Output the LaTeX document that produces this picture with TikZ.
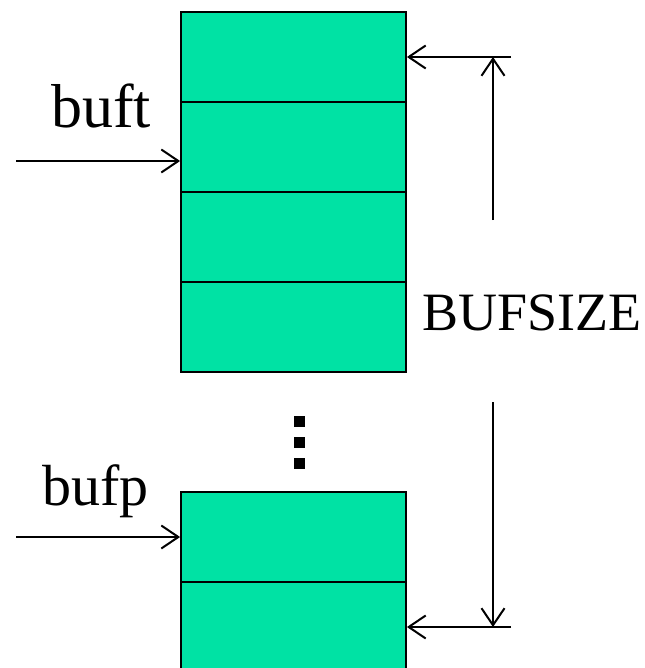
\documentclass[tikz,border=0pt]{standalone}
\usepackage{fontspec}
\setmainfont{Liberation Serif}
\usetikzlibrary{arrows.meta}

\definecolor{bufgreen}{RGB}{0,226,164}

\begin{document}
\begin{tikzpicture}[x=1pt,y=-1pt,
    cell/.style={draw, fill=bufgreen, line width=1.8pt, minimum width=225pt, minimum height=90pt, inner sep=0pt},
    ptr/.style={line width=2pt, -{Straight Barb[length=17pt,width=23pt,line width=2pt]}},
    lbl/.style={anchor=base west, inner sep=0pt, font=\fontsize{62}{64}\selectfont}]
        \def \cx {293.5}
        \def \top {57}
        \def \h {90}
        
        \clip (0,0) rectangle (644,668);
        
        % the buffer blocks
        \foreach \i in {0,1,2,3}{
          \node[cell] at (\cx,{\top+\i*\h}) (cell\i) {};
        }
        \node[cell] at (\cx,537) (bot0) {};
        \node[cell] at (\cx,627) (bot1) {};
        
        % dots
        \foreach \y in {421,442,463}{
          \fill (294,\y-5.5) rectangle (305,\y+5.5);
        }
        
        % pointers
        \node[lbl] at (51,128) (buft) {buft};
        \coordinate (bufttail) at (16,161);
        \draw[ptr] (bufttail) -- (bufttail -| cell1.west);
        
        \node[lbl, font=\fontsize{58}{60}\selectfont] at (42,505) (bufp) {bufp};
        \coordinate (bufptail) at (16,537);
        \draw[ptr] (bufptail) -- (bot0.west);
        
        % size
        \coordinate (topR) at (511,57);
        \coordinate (botR) at (511,627);
        \draw[ptr] (topR) -- (cell0.east);
        \draw[ptr] (botR) -- (bot1.east);
        
        \coordinate (upstart) at (493,220);
        \coordinate (dnstart) at (493,402);
        \draw[ptr] (upstart) -- (upstart |- topR);
        \draw[ptr] (dnstart) -- (dnstart |- botR);
        
        \node[lbl, font=\fontsize{54}{56}\selectfont] at (422,330) (bufsize) {BUFSIZE};
\end{tikzpicture}
\end{document}
